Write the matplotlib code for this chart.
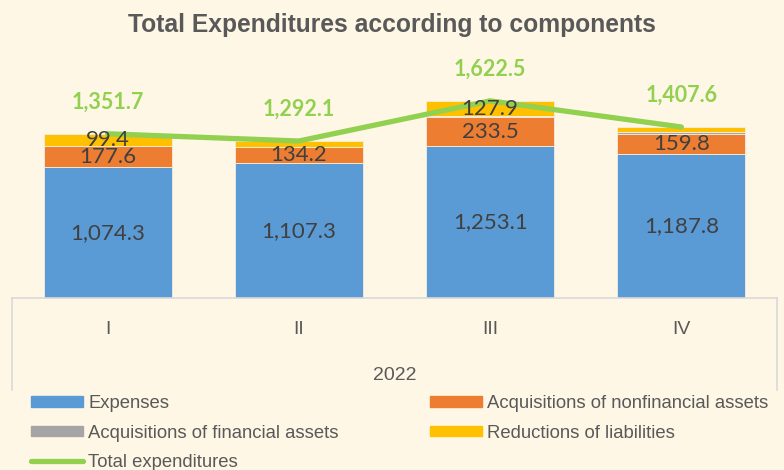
import numpy as np
import matplotlib.pyplot as plt
from matplotlib.patches import Patch
from matplotlib.lines import Line2D

# quarters of 2022, values in million
quarters = ['I', 'II', 'III', 'IV']
year = '2022'
expenses = [1074.3, 1107.3, 1253.1, 1187.8]
nonfin_assets = [177.6, 134.2, 233.5, 159.8]
fin_assets = [0.4, 3.0, 8.0, 15.0]
reductions = [99.4, 47.6, 127.9, 45.0]
totals = [1351.7, 1292.1, 1622.5, 1407.6]

# which segment labels excel actually shows
show_nonfin = [True, True, True, True]
show_reductions = [True, False, True, False]

BG = '#FFF7E6'
C_EXP = '#5B9BD5'
C_NONFIN = '#ED7D31'
C_FIN = '#A5A5A5'
C_RED = '#FFC000'
C_TOT = '#92D050'
TXT = '#404040'
GREY = '#595959'

W, H = 784, 470
fig = plt.figure(figsize=(W / 100, H / 100), dpi=100, facecolor=BG)
ax = fig.add_axes([12 / W, (H - 298) / H, 765 / W, 243 / H])
ax.set_facecolor(BG)

x = np.arange(len(quarters))
bw = 0.67
edge = dict(edgecolor='#F3EEE0', linewidth=0.6)
b0 = np.zeros(len(x))
ax.bar(x, expenses, bw, bottom=b0, color=C_EXP, **edge)
b1 = b0 + np.array(expenses)
ax.bar(x, nonfin_assets, bw, bottom=b1, color=C_NONFIN, **edge)
b2 = b1 + np.array(nonfin_assets)
ax.bar(x, fin_assets, bw, bottom=b2, color=C_FIN, **edge)
b3 = b2 + np.array(fin_assets)
ax.bar(x, reductions, bw, bottom=b3, color=C_RED, **edge)

ax.plot(x, totals, color=C_TOT, lw=3.8, solid_capstyle='round', zorder=5)

lab_font = dict(family=['Lato', 'DejaVu Sans'], fontsize=16, color=TXT,
                ha='center', va='center', zorder=6)
for i in range(len(x)):
    ax.text(x[i], expenses[i] / 2, f'{expenses[i]:,.1f}', **lab_font)
    if show_nonfin[i]:
        ax.text(x[i], b1[i] + nonfin_assets[i] / 2, f'{nonfin_assets[i]:,.1f}', **lab_font)
    if show_reductions[i]:
        ax.text(x[i], b3[i] + reductions[i] / 2, f'{reductions[i]:,.1f}', **lab_font)
    ax.annotate(f'{totals[i]:,.1f}', (x[i], totals[i]), xytext=(0, 23),
                textcoords='offset points', ha='center', va='center',
                fontsize=15.5, fontweight='bold', color=C_TOT,
                family=['Lato', 'DejaVu Sans'], zorder=6)

ax.set_xlim(-0.5, len(x) - 0.5)
ax.set_ylim(0, 2000)
ax.set_yticks([])
ax.set_xticks([])
for s in ['top', 'left', 'right']:
    ax.spines[s].set_visible(False)
ax.spines['bottom'].set_color('#D9D9D9')
ax.spines['bottom'].set_linewidth(1.2)

# multi-level category axis (quarters, then the year)
sans = ['Liberation Sans', 'DejaVu Sans']
drop = (390 - 298) / 243
for xe in [0, 1]:
    ax.plot([xe, xe], [0, -drop], transform=ax.transAxes, color='#D9D9D9',
            lw=1.2, clip_on=False)
for i, q in enumerate(quarters):
    ax.text(x[i], -(330 - 298) / 243, q, transform=ax.get_xaxis_transform(),
            ha='center', va='center', fontsize=14, color=GREY, family=sans)
ax.text(0.5, -(376 - 298) / 243, year, transform=ax.transAxes, ha='center',
        va='center', fontsize=14, color=GREY, family=sans)

fig.text(0.5, 1 - 25 / H, 'Total Expenditures according to components',
         ha='center', va='center', fontsize=17.7, fontweight='bold',
         color=GREY, family=sans)

leg_kw = dict(loc='upper left', frameon=False,
              prop={'family': sans, 'size': 13.3}, labelcolor=GREY,
              handlelength=2.8, handleheight=0.5, handletextpad=0.3,
              labelspacing=0.68, borderaxespad=0, borderpad=0)
fig.legend([Patch(color=C_EXP), Patch(color=C_FIN),
            Line2D([], [], color=C_TOT, lw=3.8, solid_capstyle='round')],
           ['Expenses', 'Acquisitions of financial assets', 'Total expenditures'],
           bbox_to_anchor=(31 / W, 1 - 395 / H), **leg_kw)
fig.legend([Patch(color=C_NONFIN), Patch(color=C_RED)],
           ['Acquisitions of nonfinancial assets', 'Reductions of liabilities'],
           bbox_to_anchor=(430 / W, 1 - 395 / H), **leg_kw)

fig.savefig('out.png', dpi=100, facecolor=BG)
